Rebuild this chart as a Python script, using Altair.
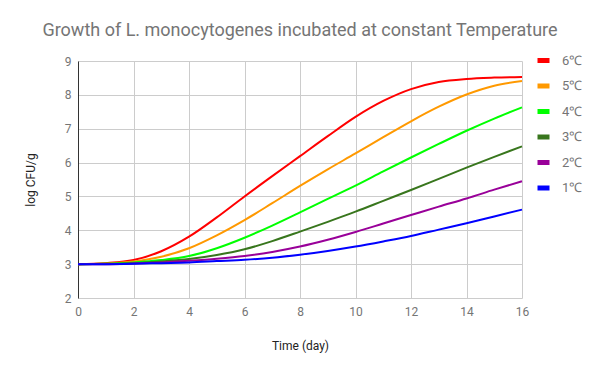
import altair as alt
import pandas as pd

days = list(range(0, 17))
series_names = ["6℃", "5℃", "4℃", "3℃", "2℃", "1℃"]
colors = ["#ff0000", "#ff9900", "#00ff00", "#38761d", "#990099", "#0000ff"]

t6 = [3.0, 3.03, 3.12, 3.38, 3.81, 4.38, 5.0, 5.6, 6.19, 6.78, 7.35, 7.82, 8.17, 8.38, 8.47, 8.51, 8.53]
t5 = [3.0, 3.02, 3.08, 3.22, 3.47, 3.85, 4.3, 4.8, 5.31, 5.8, 6.27, 6.75, 7.22, 7.65, 8.01, 8.27, 8.41]
t4 = [3.0, 3.01, 3.05, 3.12, 3.24, 3.47, 3.78, 4.14, 4.53, 4.93, 5.32, 5.74, 6.15, 6.55, 6.94, 7.3, 7.63]
t3 = [3.0, 3.01, 3.03, 3.08, 3.15, 3.27, 3.44, 3.68, 3.96, 4.25, 4.55, 4.87, 5.19, 5.52, 5.85, 6.17, 6.48]
t2 = [3.0, 3.0, 3.02, 3.05, 3.1, 3.16, 3.24, 3.36, 3.52, 3.72, 3.95, 4.2, 4.45, 4.7, 4.94, 5.2, 5.45]
t1 = [3.0, 3.0, 3.01, 3.03, 3.05, 3.09, 3.13, 3.19, 3.28, 3.39, 3.52, 3.67, 3.83, 4.02, 4.21, 4.41, 4.61]

rows = []
for name, vals in zip(series_names, [t6, t5, t4, t3, t2, t1]):
    for d, v in zip(days, vals):
        rows.append({"day": d, "value": v, "series": name})
df = pd.DataFrame(rows)

font = "Roboto"
gray = "#757575"

chart = alt.Chart(df).mark_line(strokeWidth=2, interpolate="monotone").encode(
    x=alt.X("day:Q", scale=alt.Scale(domain=[0, 16], nice=False),
            axis=alt.Axis(title="Time (day)", values=list(range(0, 17, 2)), domain=False, ticks=False,
                          labelColor=gray, labelFont=font, labelFontSize=12, labelPadding=8,
                          titleFont=font, titleFontSize=12, titleFontWeight="normal", titleColor="#222222",
                          titlePadding=23, gridColor="#cccccc", labelFlush=False)),
    y=alt.Y("value:Q", scale=alt.Scale(domain=[2, 9], nice=False),
            axis=alt.Axis(title="log CFU/g", values=list(range(2, 10)), domain=True, domainColor="#333333",
                          ticks=False, labelColor=gray, labelFont=font, labelFontSize=12, labelPadding=7,
                          titleFont=font, titleFontSize=12, titleFontWeight="normal", titleColor="#222222",
                          titlePadding=27, gridColor="#cccccc")),
    color=alt.Color("series:N", scale=alt.Scale(domain=series_names, range=colors),
                    legend=alt.Legend(title=None, orient="none", legendX=457, legendY=-9,
                                      symbolType="stroke", symbolSize=144, symbolStrokeWidth=5,
                                      labelFont=font, labelFontSize=13, labelColor=gray,
                                      rowPadding=4.5, labelOffset=10)),
).properties(
    width=444, height=237,
    autosize=alt.AutoSizeParams(type="none"),
    padding={"left": 70, "top": 53, "right": 70, "bottom": 60},
    title=alt.TitleParams("Growth of L. monocytogenes incubated at constant Temperature",
                          font=font, fontSize=18, fontWeight="normal", color=gray,
                          anchor="middle", offset=12),
).configure_view(stroke=None)

chart.save("out.html", embed_options={"renderer": "svg", "actions": False})
